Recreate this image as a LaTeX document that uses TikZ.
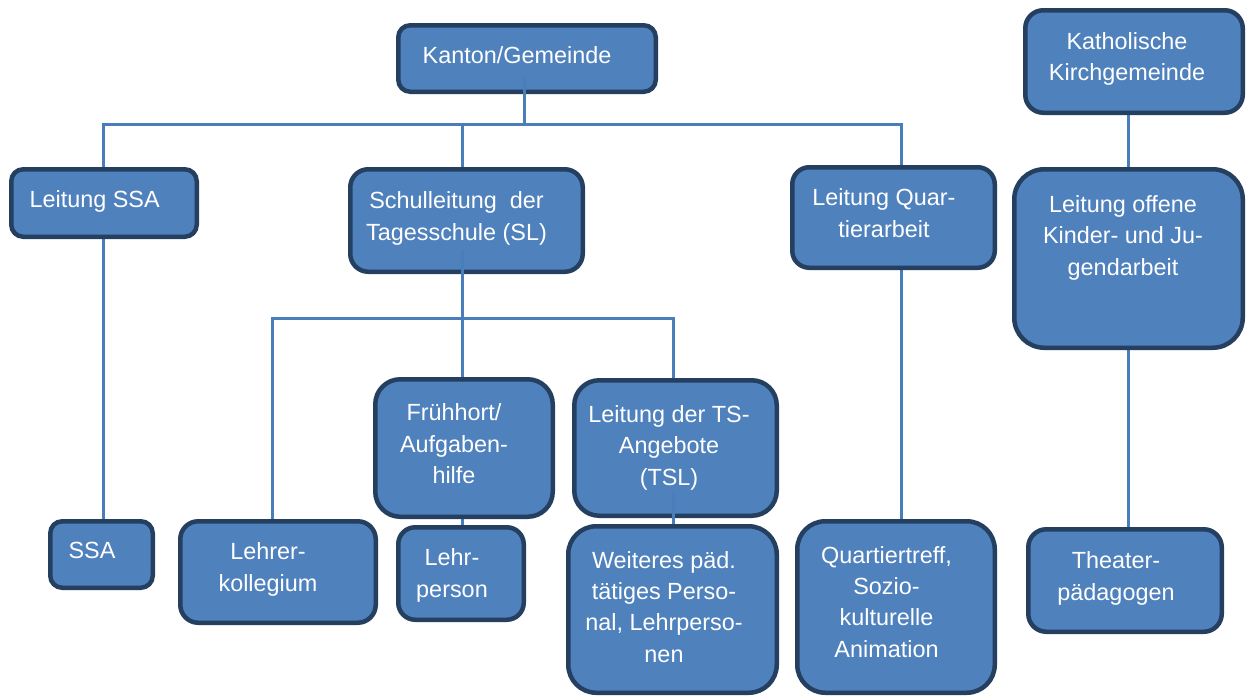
\documentclass[tikz,border=0pt]{standalone}
\usepackage{fontspec}
\setmainfont{Liberation Sans}
\usetikzlibrary{calc}
\definecolor{boxfill}{HTML}{4F81BD}
\definecolor{boxedge}{HTML}{243F60}
\definecolor{linkcol}{HTML}{4A7EBB}
\pgfdeclarelayer{paper}
\pgfdeclarelayer{background}
\pgfsetlayers{paper,background,main}

% #1 name, #2/#3 upper-left corner, #4/#5 lower-right corner, #6 corner radius
\newcommand\orgbox[6]{%
  \node[box, rounded corners=#6pt,
        minimum width={#4-#2-4.5}, minimum height={#5-#3-4.5}]
       (#1) at ({(#2+#4)/2},{(#3+#5)/2}) {};}

\begin{document}
\begin{tikzpicture}[x=1pt,y=-1pt,
  box/.style={draw=boxedge, fill=boxfill, line width=4.5pt, inner sep=0pt},
  % labels are placed by the baseline of their last line
  txt/.style={text=white, font=\fontsize{23.4}{31.3}\selectfont,
              align=center, anchor=base, inner sep=0pt},
  link/.style={draw=linkcol, line width=3pt}]

\begin{pgfonlayer}{paper}
  \fill[white] (0,0) rectangle (1246,697);
\end{pgfonlayer}
\useasboundingbox (0,0) rectangle (1246,697);

% boxes
\orgbox{kanton}{396}{23}{658}{94}{12}
\orgbox{kath}{1023}{8}{1245}{115}{18}
\orgbox{lssa}{9}{167}{199}{239}{12}
\orgbox{sl}{348}{167}{585}{274}{18}
\orgbox{lq}{790}{165}{997}{270}{17}
\orgbox{lok}{1012}{167}{1245}{350}{30}
\orgbox{fh}{373}{377}{555}{519}{25}
\orgbox{tsl}{572}{378}{779}{518}{25}
\orgbox{ssa}{48}{519}{155}{590}{12}
\orgbox{lk}{178}{519}{378}{625}{18}
\orgbox{lp}{396}{525}{526}{622}{17}
\orgbox{wp}{566}{524}{779}{695}{28}
\orgbox{qt}{795}{519}{997}{695}{28}
\orgbox{th}{1026}{527}{1224}{634}{18}

% labels
\node[txt] (kanton-t) at (517,63) {Kanton/Gemeinde};
\node[txt] (kath-t) at (1127,80.5) {Katholische\\Kirchgemeinde};
\node[txt] (lssa-t) at (94.7,207) {Leitung SSA};
\node[txt] (sl-t) at (456.5,240) {Schulleitung\ \ der\\Tagesschule (SL)};
\node[txt] (lq-t) at (884,237) {Leitung Quar-\\tierarbeit};
\node[txt] (lok-t) at (1123,275) {Leitung offene\\Kinder- und Ju-\\gendarbeit};
\node[txt] (fh-t) at (454,483.5) {Frühhort/\\Aufgaben-\\hilfe};
\node[txt] (tsl-t) at (669,485) {Leitung der TS-\\Angebote\\(TSL)};
\node[txt] (ssa-t) at (92,558) {SSA};
\node[txt] (lk-t) at (268,591) {Lehrer-\\kollegium};
\node[txt] (lp-t) at (452,597) {Lehr-\\person};
\node[txt] (wp-t) at (664,662) {Weiteres päd.\\tätiges Perso-\\nal, Lehrperso-\\nen};
\node[txt] (qt-t) at (886.5,657) {Quartiertreff,\\Sozio-\\kulturelle\\Animation};
\node[txt] (th-t) at (1116,600) {Theater-\\pädagogen};

% connector anchor points
\coordinate (kanton-in) at (524,77);
\coordinate (bus-l) at (103,124);
\coordinate (bus-r) at (901,124);
\coordinate (sl-in) at (462,250);
\coordinate (bus2-l) at (272,318);
\coordinate (bus2-r) at (673,318);
\coordinate (tsl-in) at (673,493);
\coordinate (kk) at (1128,0);

% connectors behind the boxes
\begin{pgfonlayer}{background}
  \draw[link] (lssa.north -| bus-l) -- (bus-l) -- (bus-r) -- (lq.north -| bus-r);
  \draw[link] (sl.north -| sl-in) -- (sl-in |- bus-l);
  \draw[link] (lk.north -| bus2-l) -- (bus2-l) -- (bus2-r) -- (tsl.north -| bus2-r);
  \draw[link] (lssa.south -| bus-l) -- (ssa.north -| bus-l);
  \draw[link] (lq.south -| bus-r) -- (qt.north -| bus-r);
  \draw[link] (fh.south -| sl-in) -- (lp.north -| sl-in);
  \draw[link] (kath.south -| kk) -- (lok.north -| kk);
  \draw[link] (lok.south -| kk) -- (th.north -| kk);
\end{pgfonlayer}

% connectors that start inside their box
\draw[link] (kanton-in) -- (kanton-in |- bus-l);
\draw[link] (sl-in) -- (fh.north -| sl-in);
\draw[link] (tsl-in) -- (wp.north -| tsl-in);
\end{tikzpicture}
\end{document}
